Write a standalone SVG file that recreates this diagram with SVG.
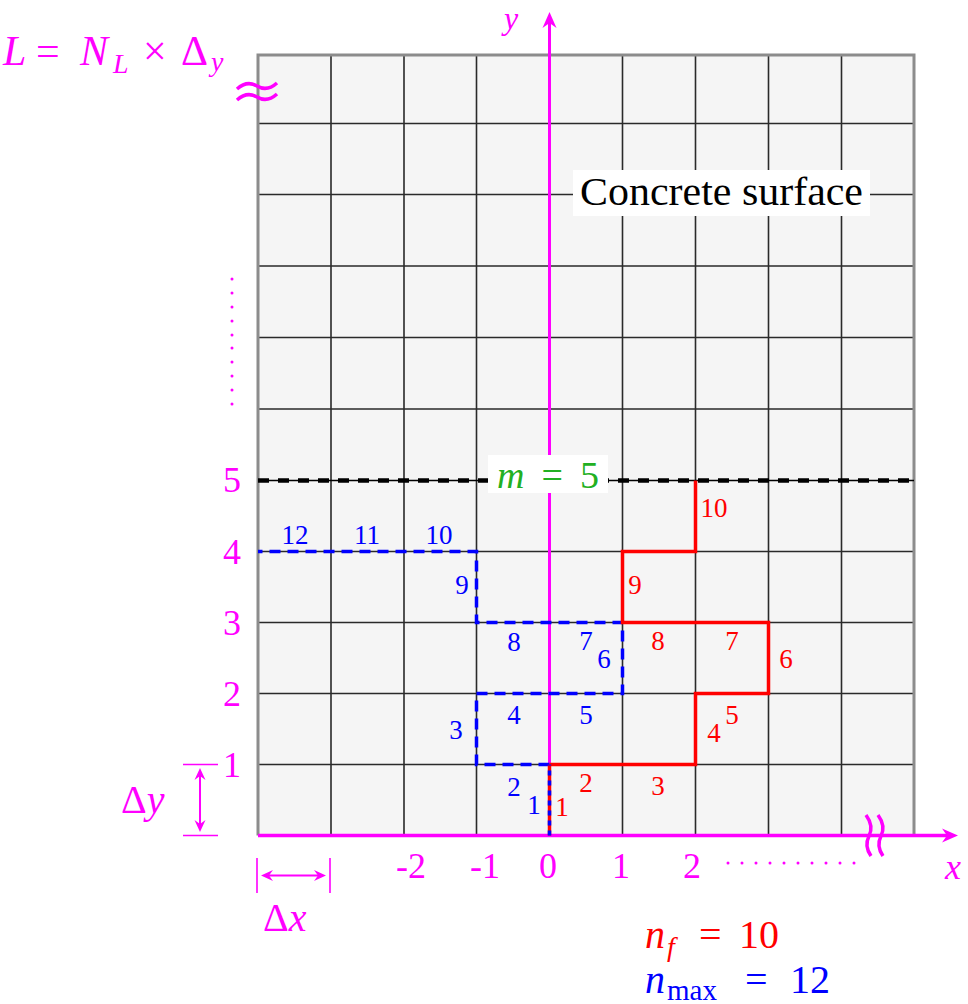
<svg xmlns="http://www.w3.org/2000/svg" width="968" height="1004" viewBox="0 0 968 1004">
<defs>
<style>
text{font-family:"Liberation Serif","DejaVu Serif",serif;}
.mg{fill:#ff00ff;}
.bl{fill:#0000ff;font-size:27px;text-anchor:middle;}
.rd{fill:#ff0000;font-size:27px;text-anchor:middle;}
.tick{fill:#ff00ff;font-size:36px;text-anchor:middle;}
.it{font-style:italic;}
.gl{stroke:#2a2a2a;stroke-width:1.6;fill:none;}
.mline{stroke:#ff00ff;fill:none;}
</style>
<marker id="arr" viewBox="-17 -8 18 16" markerWidth="18" markerHeight="16" refX="-8" refY="0" orient="auto-start-reverse" markerUnits="userSpaceOnUse">
<path d="M0,0 L-16,-7 L-11,0 L-16,7 z" fill="#ff00ff"/>
</marker>
<marker id="arrs" viewBox="-13 -7 14 14" markerWidth="14" markerHeight="14" refX="-4" refY="0" orient="auto-start-reverse" markerUnits="userSpaceOnUse">
<path d="M0,0 L-12,-5.5 L-8,0 L-12,5.5 z" fill="#ff00ff"/>
</marker>
</defs>

<g id="grid">
<rect x="258" y="55" width="656" height="780.5" fill="#f5f5f5"/>
<path class="gl" d="M331,55V835.5 M404,55V835.5 M476.5,55V835.5 M622.5,55V835.5 M695.5,55V835.5 M768.5,55V835.5 M841.5,55V835.5
M258,123.5H914 M258,194.5H914 M258,266H914 M258,337.5H914 M258,409H914 M258,551.5H914 M258,622.5H914 M258,693.5H914 M258,764.5H914"/>
<path d="M258,835.5V55H914V835.5" fill="none" stroke="#8c8c8c" stroke-width="3"/>
</g>

<g id="surface-label">
<rect x="573" y="170" width="297" height="46" fill="#ffffff"/>
<text x="721.5" y="205" font-size="39" text-anchor="middle" textLength="283" lengthAdjust="spacingAndGlyphs" fill="#000">Concrete surface</text>
</g>

<g id="m-line">
<path d="M258,480.5H914" stroke="#000" stroke-width="1.5"/>
<path d="M258,480.5H914" stroke="#000" stroke-width="4.5" stroke-dasharray="11 9"/>
</g>

<g id="axes">
<path class="mline" d="M549.5,835.5V20" stroke-width="3" marker-end="url(#arr)"/>
<path class="mline" d="M258,835.5H950" stroke-width="3.5" marker-end="url(#arr)"/>
<path class="mline" d="M866,815 Q874,826 869,836 T871,856 M878,815 Q886,826 881,836 T883,856" stroke-width="3.5"/>
<path class="mline" d="M237,89 Q247,80 257,86 T277,83 M237,100 Q247,91 257,97 T277,94" stroke-width="3.5"/>
<text class="mg it" x="504" y="29" font-size="32">y</text>
<text class="mg it" x="945" y="879" font-size="36">x</text>
</g>

<g id="m-label">
<rect x="488" y="455" width="120" height="38" fill="#ffffff"/>
<text x="497" y="488" font-size="38" fill="#22b022" textLength="102" lengthAdjust="spacing"><tspan class="it">m</tspan> = 5</text>
</g>

<g id="path-max">
<path d="M549.5,764.5H476.5V693.5H622.5V622.5H476.5V551.5H258" fill="none" stroke="#0000ff" stroke-width="3.5" stroke-dasharray="11 7"/>
</g>
<g id="path-f">
<path d="M549.5,764.5H695.5V693.5H768.5V622.5H622.5V551.5H695.5V480.5" fill="none" stroke="#ff0000" stroke-width="3.5"/>
<path d="M549.5,835.5V764.5" stroke="#ff0000" stroke-width="3.5"/>
<path d="M549.5,835.5V764.5" stroke="#0000ff" stroke-width="3.5" stroke-dasharray="5 5"/>
</g>

<g id="labels-max">
<text class="bl" x="534" y="814">1</text>
<text class="bl" x="514" y="796">2</text>
<text class="bl" x="456" y="739">3</text>
<text class="bl" x="514" y="724">4</text>
<text class="bl" x="586" y="724">5</text>
<text class="bl" x="604" y="668">6</text>
<text class="bl" x="586" y="650">7</text>
<text class="bl" x="514" y="651">8</text>
<text class="bl" x="462" y="594">9</text>
<text class="bl" x="439" y="544">10</text>
<text class="bl" x="367" y="544">11</text>
<text class="bl" x="295" y="544">12</text>
</g>
<g id="labels-f">
<text class="rd" x="562" y="816">1</text>
<text class="rd" x="586" y="792">2</text>
<text class="rd" x="658" y="795">3</text>
<text class="rd" x="714" y="742">4</text>
<text class="rd" x="732" y="724">5</text>
<text class="rd" x="786" y="668">6</text>
<text class="rd" x="732" y="650">7</text>
<text class="rd" x="658" y="650">8</text>
<text class="rd" x="635" y="594">9</text>
<text class="rd" x="714" y="517">10</text>
</g>

<g id="y-ticks">
<text class="tick" x="232" y="492">5</text>
<text class="tick" x="232" y="564">4</text>
<text class="tick" x="232" y="635">3</text>
<text class="tick" x="232" y="706">2</text>
<text class="tick" x="232" y="777">1</text>
<g fill="#ff00ff">
<circle cx="232" cy="279" r="1.5"/><circle cx="232" cy="293" r="1.5"/><circle cx="232" cy="307" r="1.5"/><circle cx="232" cy="321" r="1.5"/><circle cx="232" cy="335" r="1.5"/><circle cx="232" cy="348" r="1.5"/><circle cx="232" cy="362" r="1.5"/><circle cx="232" cy="376" r="1.5"/><circle cx="232" cy="390" r="1.5"/><circle cx="232" cy="404" r="1.5"/>
</g>
</g>

<g id="x-ticks">
<text class="tick" x="411" y="878" text-anchor="end">-2</text>
<text class="tick" x="485" y="878" text-anchor="end">-1</text>
<text class="tick" x="548" y="878">0</text>
<text class="tick" x="621" y="878">1</text>
<text class="tick" x="692" y="878">2</text>
<g fill="#ff00ff">
<circle cx="728" cy="863" r="1.5"/><circle cx="742" cy="863" r="1.5"/><circle cx="756" cy="863" r="1.5"/><circle cx="770" cy="863" r="1.5"/><circle cx="784" cy="863" r="1.5"/><circle cx="798" cy="863" r="1.5"/><circle cx="812" cy="863" r="1.5"/><circle cx="826" cy="863" r="1.5"/><circle cx="840" cy="863" r="1.5"/><circle cx="854" cy="863" r="1.5"/>
</g>
</g>

<g id="dim-y">
<path class="mline" d="M183,764.5H218 M183,835.5H218" stroke-width="1.6"/>
<path class="mline" d="M200,772V828" stroke-width="2" marker-start="url(#arrs)" marker-end="url(#arrs)"/>
<text class="mg" x="121" y="813" font-size="40">Δ<tspan class="it">y</tspan></text>
</g>

<g id="dim-x">
<path class="mline" d="M257,858V893 M330,858V893" stroke-width="1.6"/>
<path class="mline" d="M265,875.5H322" stroke-width="2" marker-start="url(#arrs)" marker-end="url(#arrs)"/>
<text class="mg" x="263" y="931" font-size="40">Δ<tspan class="it">x</tspan></text>
</g>

<g id="L-label">
<text class="mg" x="3" y="65" font-size="42"><tspan class="it">L</tspan><tspan x="36">=</tspan><tspan x="80" class="it">N</tspan><tspan x="113" dy="8" font-size="28" class="it">L</tspan><tspan x="143" dy="-8">×</tspan><tspan x="181">Δ</tspan><tspan x="211" dy="6" font-size="28" class="it">y</tspan></text>
</g>

<g id="counts">
<text x="645" y="948" font-size="40" fill="#ff0000"><tspan class="it">n</tspan><tspan x="667" dy="8" font-size="28" class="it">f</tspan><tspan x="699" dy="-8">=</tspan><tspan x="739">10</tspan></text>
<text x="645" y="993" font-size="40" fill="#0000ff"><tspan class="it">n</tspan><tspan x="667" dy="7" font-size="29">max</tspan><tspan x="745" dy="-7">=</tspan><tspan x="790">12</tspan></text>
</g>
</svg>
